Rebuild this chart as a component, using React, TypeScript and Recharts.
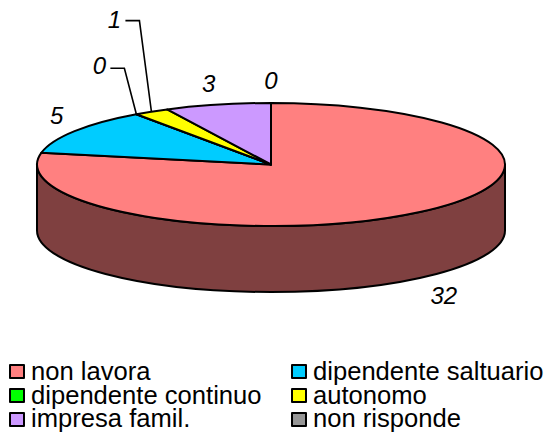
import React from "react";
import { PieChart, Pie, Legend } from "recharts";

const categories = ["non lavora", "dipendente saltuario", "dipendente continuo", "autonomo", "impresa famil.", "non risponde"];
const values = [32, 5, 0, 1, 3, 0];
const colors = ["#FF8080", "#00CCFF", "#00FF00", "#FFFF00", "#CC99FF", "#969696"];
const data = categories.map((name, i) => ({ name, value: values[i], fill: colors[i] }));

const FONT = "'Liberation Sans', Arial, sans-serif";
const RX = 234;
const RY = 61.5;
const DEPTH = 66;
const RAD = Math.PI / 180;

// label offsets from the rim point at each slice's middle angle
const labelDx = [24, -18, -37, -37, -9, 0];
const labelDy = [84, -16, -49, -92, -21, -23];
const leaderRow = [false, false, true, true, false, false];
const leaderDy = [0, 0, 3, 1, 0, 0];

const rim = (cx: number, cy: number, deg: number, dy = 0) => ({
  x: cx + RX * Math.cos(deg * RAD),
  y: cy - RY * Math.sin(deg * RAD) + dy,
});

function Slice(props: any) {
  const { cx, cy, startAngle, endAngle, fill } = props;
  const s = rim(cx, cy, startAngle);
  const e = rim(cx, cy, endAngle);
  const large = Math.abs(startAngle - endAngle) > 180 ? 1 : 0;
  const top = `M${cx},${cy}L${s.x},${s.y}A${RX},${RY} 0 ${large} 1 ${e.x},${e.y}Z`;
  const showsFront = startAngle >= 0 && endAngle <= -180;
  let side = null;
  if (showsFront) {
    const a = rim(cx, cy, 0);
    const b = rim(cx, cy, -180);
    const r = parseInt(fill.slice(1, 3), 16) >> 1;
    const g = parseInt(fill.slice(3, 5), 16) >> 1;
    const bl = parseInt(fill.slice(5, 7), 16) >> 1;
    side = (
      <path
        d={`M${a.x},${a.y}A${RX},${RY} 0 0 1 ${b.x},${b.y}L${b.x},${b.y + DEPTH}A${RX},${RY} 0 0 0 ${a.x},${a.y + DEPTH}Z`}
        fill={`rgb(${r},${g},${bl})`}
        stroke="#000"
        strokeWidth={2}
        strokeLinejoin="round"
      />
    );
  }
  return (
    <g>
      {side}
      <path d={top} fill={fill} stroke="#000" strokeWidth={2} strokeLinejoin="round" />
    </g>
  );
}

function SliceLabel(props: any) {
  const { cx, cy, midAngle, value, index } = props;
  const p = rim(cx, cy, midAngle);
  const x = p.x + labelDx[index];
  const y = p.y + labelDy[index];
  return (
    <g>
      {leaderRow[index] && (
        <polyline
          points={`${x + 11},${y + leaderDy[index]} ${x + 25},${y + leaderDy[index]} ${p.x},${p.y}`}
          fill="none"
          stroke="#000"
          strokeWidth={1.6}
        />
      )}
      <text x={x} y={y} textAnchor="middle" dominantBaseline="central" fontFamily={FONT} fontStyle="italic" fontSize={24} fill="#000">
        {value}
      </text>
    </g>
  );
}

function LegendBody({ payload }: any) {
  return (
    <div
      style={{
        display: "grid",
        gridTemplateColumns: "282px 255px",
        gridAutoRows: "23.7px",
        fontFamily: FONT,
        fontSize: 25.6,
        color: "#000",
        lineHeight: "23.7px",
      }}
    >
      {(payload || []).map((entry: any) => (
        <div key={entry.value} style={{ display: "flex", alignItems: "center", whiteSpace: "nowrap" }}>
          <span
            style={{
              display: "inline-block",
              boxSizing: "border-box",
              flex: "0 0 16px",
              width: 16,
              height: 15,
              border: "2px solid #000",
              borderRadius: 1,
              background: entry.color,
              marginRight: 6,
            }}
          />
          {entry.value}
        </div>
      ))}
    </div>
  );
}

export default function App() {
  return (
    <div style={{ position: "absolute", left: 0, top: 0, width: 547, height: 435, background: "#fff" }}>
      <PieChart width={547} height={435} margin={{ top: 0, right: 0, bottom: 0, left: 0 }}>
        <Pie
          data={data}
          dataKey="value"
          nameKey="name"
          cx={271}
          cy={164.5}
          innerRadius={0}
          outerRadius={RX}
          startAngle={90}
          endAngle={-270}
          paddingAngle={0}
          stroke="#000"
          isAnimationActive={false}
          shape={Slice}
          label={SliceLabel}
          labelLine={false}
        />
        <Legend
          content={LegendBody}
          itemSorter={null}
          layout="horizontal"
          verticalAlign="bottom"
          wrapperStyle={{ position: "absolute", left: 9, top: 360, width: 537, height: 72, bottom: "auto" }}
        />
      </PieChart>
    </div>
  );
}
